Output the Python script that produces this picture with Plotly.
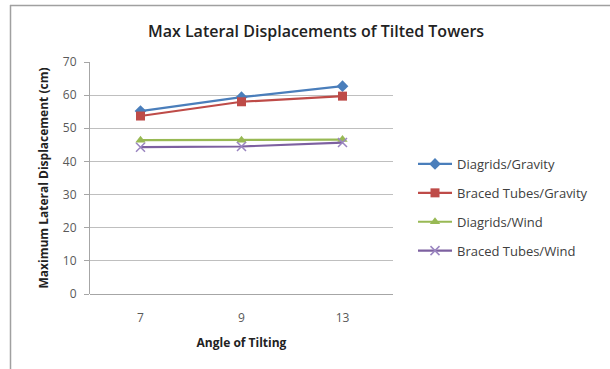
import plotly.graph_objects as go

# Tilt angles (degrees) and peak lateral displacement (cm) per system/load case
angles = ["7", "9", "13"]
diagrids_gravity = [55.2, 59.4, 62.7]
braced_gravity = [53.7, 58.0, 59.7]
diagrids_wind = [46.4, 46.4, 46.6]
braced_wind = [44.3, 44.5, 45.7]

y_ticks = [0, 10, 20, 30, 40, 50, 60, 70]

FONT = "'Open Sans', Lato, sans-serif"

series = [
    ("Diagrids/Gravity", diagrids_gravity, "#4A7EBB", "diamond", 9),
    ("Braced Tubes/Gravity", braced_gravity, "#BE4B48", "square", 9),
    ("Diagrids/Wind", diagrids_wind, "#98B954", "triangle-up", 9),
    ("Braced Tubes/Wind", braced_wind, "#7D60A0", "x-thin", 9),
]

fig = go.Figure()
for name, vals, color, symbol, size in series:
    marker = dict(symbol=symbol, size=size, color=color)
    if symbol == "x-thin":
        marker["line"] = dict(color="#9A85C0", width=1.5)
    fig.add_trace(go.Scatter(
        x=angles, y=vals, name=name, legendgroup=name, mode="lines+markers",
        line=dict(color=color, width=2.2), marker=marker,
    ))

W, H = 610, 369
L, R, T, B = 90, 217, 62, 75
pw, ph = W - L - R, H - T - B

def px(x):
    return (x - L) / pw

def py(y):
    return (H - B - y) / ph

fig.update_layout(
    width=W, height=H,
    margin=dict(l=L, r=R, t=T, b=B),
    paper_bgcolor="white", plot_bgcolor="white",
    font=dict(family=FONT, size=12, color="#404040"),
    title=dict(text="<span style='font-weight:600'>Max Lateral Displacements of Tilted Towers</span>",
               x=px(316), xref="paper", xanchor="center",
               y=1 - 31 / H, yanchor="middle",
               font=dict(size=16, color="#222222")),
    xaxis=dict(
        type="category", range=[-0.5, 2.5], showgrid=False,
        showline=False, ticks="", ticklabelstandoff=15,
        tickfont=dict(size=12, color="#595959"),
        title=dict(text="<b>Angle of Tilting</b>", font=dict(size=12, color="#222222"), standoff=13),
    ),
    yaxis=dict(
        range=[0, 70], tickvals=y_ticks, showgrid=True, gridcolor="#BFBFBF", gridwidth=1,
        zeroline=True, zerolinecolor="#A6A6A6", zerolinewidth=1,
        showline=True, linecolor="#A6A6A6", linewidth=1,
        ticks="outside", ticklen=5, tickcolor="#A6A6A6", ticklabelstandoff=5,
        tickfont=dict(size=12, color="#595959"),
        title=dict(text="<b>Maximum Lateral Displacement (cm)</b>",
                   font=dict(size=12, color="#222222"), standoff=11),
    ),
    legend=dict(
        x=px(413), xanchor="left", y=py(149), yanchor="top",
        font=dict(size=13, color="#404040"), tracegroupgap=9, itemwidth=34,
        itemsizing="trace", bgcolor="rgba(0,0,0,0)",
    ),
    showlegend=True,
    shapes=[
        dict(type="line", xref="paper", yref="paper",
             x0=px(10), x1=px(612), y0=py(5.5), y1=py(5.5),
             line=dict(color="#A0A0A0", width=1.5)),
        dict(type="line", xref="paper", yref="paper",
             x0=px(10.5), x1=px(10.5), y0=py(5), y1=py(372),
             line=dict(color="#A0A0A0", width=1.5)),
    ],
)

fig.write_html("out.html")
